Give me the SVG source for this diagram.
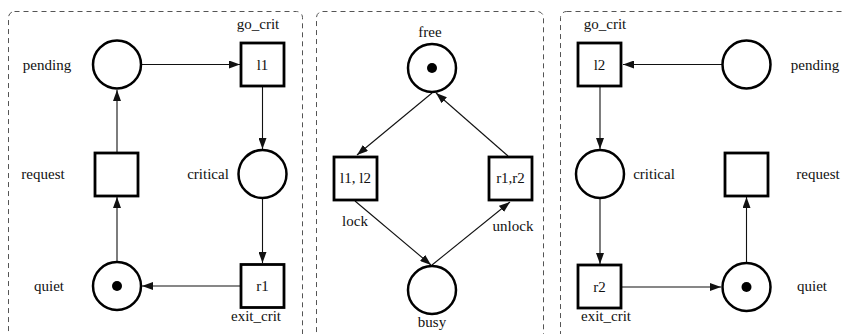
<svg xmlns="http://www.w3.org/2000/svg" width="843" height="334" viewBox="0 0 843 334">
  <style>
    .frame { fill: none; stroke: #555; stroke-width: 1; stroke-dasharray: 5 4; }
    .place { fill: #fff; stroke: #000; stroke-width: 2.5; }
    .trans { fill: #fff; stroke: #000; stroke-width: 2.8; }
    .token { fill: #000; }
    .arc { fill: none; stroke: #111; stroke-width: 1.1; marker-end: url(#head); }
    text { font-family: "Liberation Serif", "Times New Roman", serif; font-size: 15px; fill: #111; text-anchor: middle; }
  </style>
  <defs>
    <marker id="head" markerUnits="userSpaceOnUse" markerWidth="11" markerHeight="8" refX="11" refY="4" orient="auto">
      <path d="M0,0 L11,4 L0,8 z" fill="#111"/>
    </marker>
  </defs>
  <rect width="843" height="334" fill="#fff"/>

  <!-- process 1 / mutex / process 2 frames -->
  <g id="frames">
    <rect class="frame" x="8.5" y="11.5" width="294" height="332" rx="6"/>
    <rect class="frame" x="316.5" y="11.5" width="227" height="332" rx="6"/>
    <rect class="frame" x="560.5" y="11.5" width="292" height="332" rx="6"/>
  </g>

  <g id="connectors">
    <!-- process 1 -->
    <line class="arc" x1="141" y1="64.5" x2="240" y2="64.5"/>
    <line class="arc" x1="262.5" y1="87" x2="262.5" y2="149"/>
    <line class="arc" x1="262.5" y1="198" x2="262.5" y2="263"/>
    <line class="arc" x1="241" y1="286" x2="142" y2="286"/>
    <line class="arc" x1="117" y1="262" x2="117" y2="197"/>
    <line class="arc" x1="117" y1="152" x2="117" y2="90"/>
    <!-- mutex -->
    <line class="arc" x1="432" y1="93" x2="357" y2="155"/>
    <line class="arc" x1="508" y1="156" x2="436" y2="93"/>
    <line class="arc" x1="355" y1="201" x2="431" y2="265"/>
    <line class="arc" x1="432" y1="265" x2="510" y2="202"/>
    <!-- process 2 -->
    <line class="arc" x1="722" y1="64.5" x2="623" y2="64.5"/>
    <line class="arc" x1="600" y1="87" x2="600" y2="149"/>
    <line class="arc" x1="600" y1="198" x2="600" y2="264"/>
    <line class="arc" x1="622" y1="287" x2="721" y2="287"/>
    <line class="arc" x1="746.5" y1="263" x2="746.5" y2="197"/>
  </g>

  <!-- process 1 nodes -->
  <g id="p1-pending">
    <circle class="place" cx="117" cy="64.5" r="24"/>
    <text x="47" y="70">pending</text>
  </g>
  <g id="p1-go-crit">
    <rect class="trans" x="241" y="43" width="43" height="43"/>
    <text x="262.5" y="69.5">l1</text>
    <text x="258" y="29">go_crit</text>
  </g>
  <g id="p1-critical">
    <circle class="place" cx="262.5" cy="174" r="24"/>
    <text x="208" y="179">critical</text>
  </g>
  <g id="p1-request">
    <rect class="trans" x="95" y="153" width="43" height="43"/>
    <text x="43" y="179">request</text>
  </g>
  <g id="p1-quiet">
    <circle class="place" cx="117" cy="286" r="24"/>
    <circle class="token" cx="117" cy="286" r="5"/>
    <text x="49" y="291">quiet</text>
  </g>
  <g id="p1-exit-crit">
    <rect class="trans" x="241" y="264.5" width="43" height="43"/>
    <text x="262.5" y="291">r1</text>
    <text x="256" y="321">exit_crit</text>
  </g>

  <!-- mutex nodes -->
  <g id="free">
    <circle class="place" cx="432" cy="68" r="24"/>
    <circle class="token" cx="432" cy="68" r="5"/>
    <text x="430" y="37">free</text>
  </g>
  <g id="lock">
    <rect class="trans" x="334" y="157" width="43" height="43"/>
    <text x="355.5" y="183">l1, l2</text>
    <text x="355" y="226">lock</text>
  </g>
  <g id="unlock">
    <rect class="trans" x="489" y="157" width="43" height="43"/>
    <text x="510.5" y="183">r1,r2</text>
    <text x="513" y="231">unlock</text>
  </g>
  <g id="busy">
    <circle class="place" cx="432" cy="290" r="24"/>
    <text x="432" y="327">busy</text>
  </g>

  <!-- process 2 nodes -->
  <g id="p2-go-crit">
    <rect class="trans" x="578" y="43" width="43" height="43"/>
    <text x="599.5" y="69.5">l2</text>
    <text x="605" y="29">go_crit</text>
  </g>
  <g id="p2-pending">
    <circle class="place" cx="746.5" cy="64.5" r="24"/>
    <text x="815" y="70">pending</text>
  </g>
  <g id="p2-critical">
    <circle class="place" cx="600" cy="174" r="24"/>
    <text x="654" y="179">critical</text>
  </g>
  <g id="p2-request">
    <rect class="trans" x="725" y="153" width="43" height="43"/>
    <text x="818" y="179">request</text>
  </g>
  <g id="p2-quiet">
    <circle class="place" cx="746.5" cy="287" r="24"/>
    <circle class="token" cx="746.5" cy="287" r="5"/>
    <text x="812" y="291">quiet</text>
  </g>
  <g id="p2-exit-crit">
    <rect class="trans" x="578" y="265" width="43" height="43"/>
    <text x="599.5" y="291.5">r2</text>
    <text x="606" y="321">exit_crit</text>
  </g>
</svg>
